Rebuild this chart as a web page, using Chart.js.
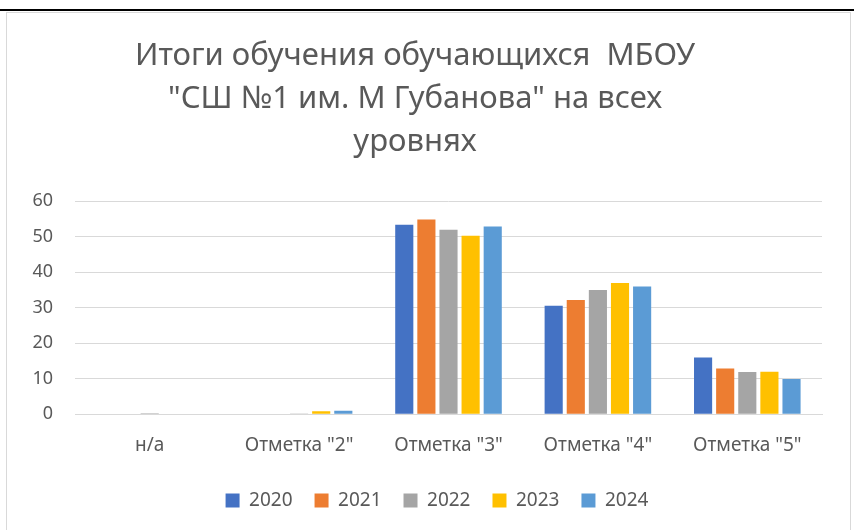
<!DOCTYPE html>
<html>
<head>
<meta charset="utf-8">
<script src="https://cdn.jsdelivr.net/npm/chart.js@4"></script>
<style>
  html, body { margin: 0; padding: 0; background: #fff; }
  body { width: 854px; height: 530px; position: relative; overflow: hidden; }
  #topLine { position: absolute; left: 0; top: 9px; width: 854px; height: 2px; background: #000; }
  #box { position: absolute; left: 6px; top: 12px; width: 845px; height: 520px; border: 1px solid #d9d9d9; box-sizing: border-box; }
  #chart { position: absolute; left: 0; top: 0; }
</style>
</head>
<body>
<div id="topLine"></div>
<div id="box"></div>
<canvas id="chart" width="854" height="530"></canvas>
<script>
// Data
const categories = ['н/а', 'Отметка "2"', 'Отметка "3"', 'Отметка "4"', 'Отметка "5"'];
const years = ['2020', '2021', '2022', '2023', '2024'];
const values2020 = [0, 0, 53.4, 30.6, 16];
const values2021 = [0, 0, 54.9, 32.2, 12.9];
const values2022 = [0.3, 0.2, 52, 35, 11.9];
const values2023 = [0, 0.8, 50.3, 37, 12];
const values2024 = [0, 1, 52.9, 36, 9.9];
const yTicks = [0, 10, 20, 30, 40, 50, 60];
const colors = ['#4472C4', '#ED7D31', '#A5A5A5', '#FFC000', '#5B9BD5'];

const series = [values2020, values2021, values2022, values2023, values2024];
const fontFamily = '"Noto Sans", "Open Sans", sans-serif';
const textColor = '#595959';

// nudge the legend a bit to the right, like in the original
const legendShift = {
  id: 'legendShift',
  afterLayout(chart) {
    const lg = chart.legend;
    lg.left += 22;
    lg.right += 22;
    lg.adjustHitBoxes();
  },
};

const ctx = document.getElementById('chart').getContext('2d');
new Chart(ctx, {
  type: 'bar',
  data: {
    labels: categories,
    datasets: series.map((data, i) => ({
      label: years[i],
      data,
      backgroundColor: colors[i],
      borderWidth: 0,
      barPercentage: 0.82,
      categoryPercentage: 0.74,
    })),
  },
  plugins: [legendShift],
  options: {
    responsive: false,
    animation: false,
    layout: { padding: { left: 8, right: 32, top: 35, bottom: 10 } },
    plugins: {
      title: {
        display: true,
        text: ['Итоги обучения обучающихся  МБОУ', '"СШ №1 им. М Губанова" на всех', 'уровнях'],
        color: textColor,
        font: { family: fontFamily, size: 31, weight: 'normal', lineHeight: 1.38 },
        padding: { top: 0, bottom: 38 },
      },
      legend: {
        position: 'bottom',
        labels: {
          color: textColor,
          font: { family: fontFamily, size: 19 },
          boxWidth: 14,
          boxHeight: 14,
          padding: 22,
        },
      },
      tooltip: { enabled: false },
    },
    scales: {
      x: {
        grid: { display: false },
        border: { color: '#d9d9d9', width: 1 },
        ticks: { color: textColor, font: { family: fontFamily, size: 19 }, padding: 12 },
      },
      y: {
        min: 0,
        max: 60,
        afterBuildTicks: (axis) => { axis.ticks = yTicks.map(v => ({ value: v })); },
        afterFit: (axis) => { axis.width = 67; },
        grid: { color: '#d9d9d9', drawTicks: false },
        border: { display: false },
        ticks: { color: textColor, font: { family: fontFamily, size: 18 }, padding: 22 },
      },
    },
  },
});
</script>
</body>
</html>
